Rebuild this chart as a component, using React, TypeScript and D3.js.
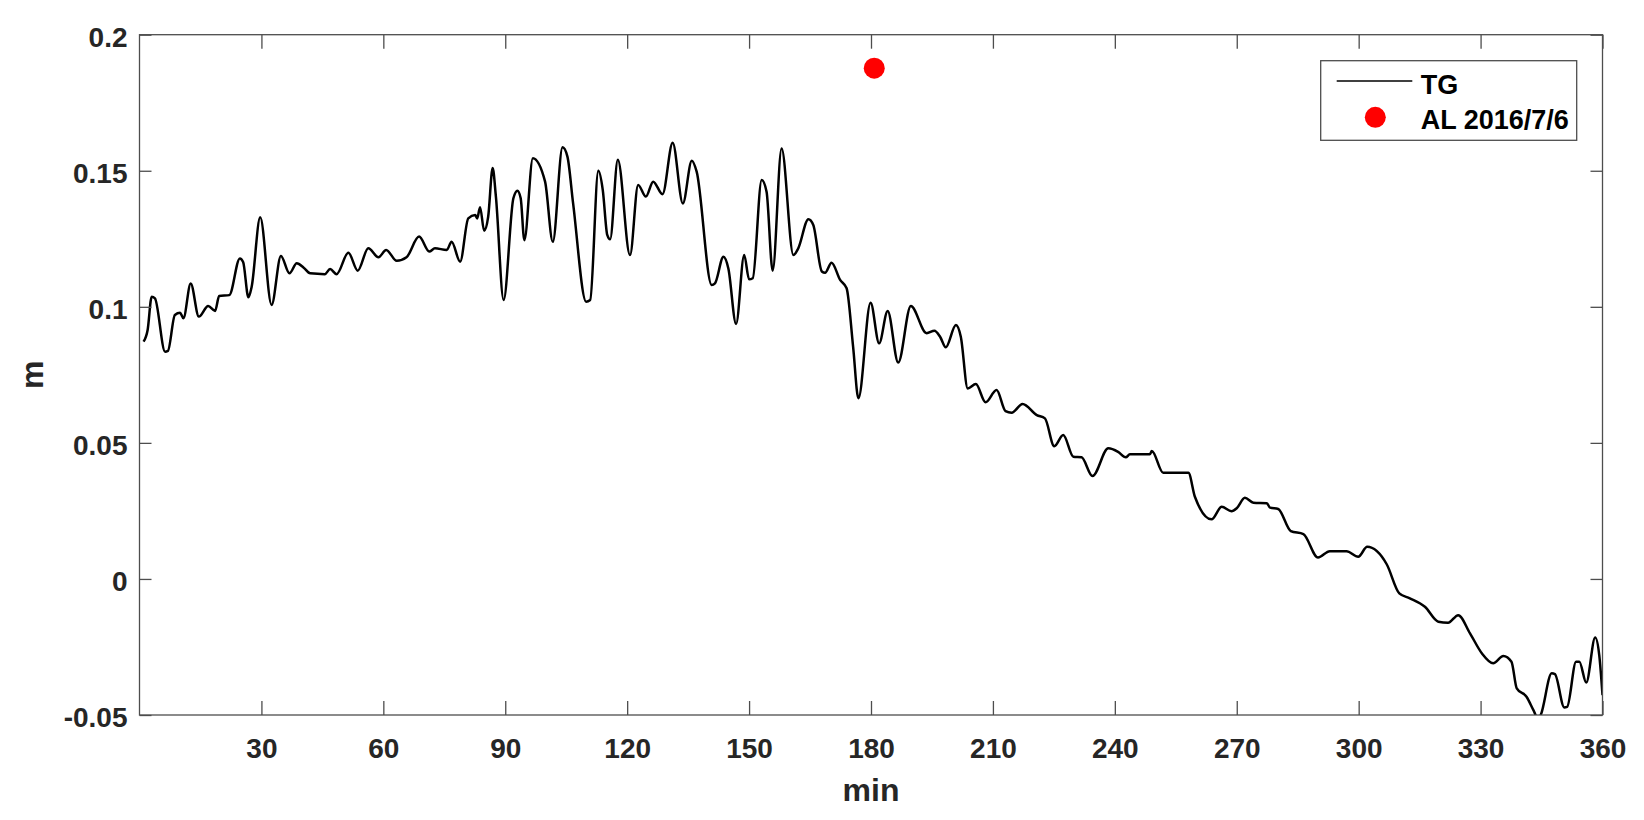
import React, { useRef, useEffect } from 'react';
import * as d3 from 'd3';

// tide gauge record (minutes, metres)
const tgMinutes = [
  1, 2, 3, 3.8, 6.3, 7, 8.7, 10, 10.8, 12.6, 14.6, 16.9, 18.6, 19.6, 22.1, 24.7, 25.5, 26.8, 27.6, 29.7,
  32.5, 34.8, 36.9, 38.7, 40.4, 42, 45.6, 46.9, 48.5, 51.4, 53.7, 56.3, 58.8, 60.7, 63.3, 65.7, 68.8, 71.3,
  72.7, 75.6, 76.8, 78.9, 80.9, 82.6, 83.1, 83.8, 84.8, 85.8, 86.9, 87.7, 89.6, 92, 93, 93.8, 94.7, 96.8,
  99.8, 101.7, 104.1, 105.3, 106.7, 109.9, 110.9, 112.9, 114, 115.1, 115.8, 117.7, 120.7, 122.7, 124.6,
  126.4, 128.7, 131.2, 133.7, 135.9, 137.1, 140.8, 141.6, 143.7, 144.9, 146.8, 148.8, 150, 150.9, 153.1,
  154.3, 155.8, 158, 160.9, 162.1, 164.6, 165.8, 167.9, 168.7, 170.3, 172.4, 174, 175.6, 176.9, 179.9,
  182, 184.1, 186.7, 189.8, 193.7, 195.6, 197, 198.4, 200.9, 202.1, 203.8, 205.8, 208.2, 210.9, 213.1,
  214.6, 217.3, 220.8, 222.8, 225.1, 227.3, 229.8, 231.8, 234.5, 238.4, 240.8, 242.7, 243.7, 248.6, 249.1,
  251.9, 258.1, 259.7, 263.8, 266.3, 268.7, 270, 272, 274.1, 277.4, 278.2, 280.2, 283.3, 286.4, 290,
  292.9, 297, 299.9, 302.1, 306.9, 310, 312.6, 316.3, 319.6, 322, 324.5, 327.4, 330.3, 333.1, 335.6,
  337.6, 338.9, 341.3, 343, 344.2, 344.8, 347.5, 348.3, 350.6, 351.3, 353.5, 354.3, 356, 358.2, 359.2, 360
];
const tgLevel = [
  0.0872, 0.0915, 0.1037, 0.1031, 0.0835, 0.0838, 0.097, 0.0978, 0.0958, 0.1086, 0.0964, 0.1003, 0.0985,
  0.104, 0.1043, 0.1178, 0.1165, 0.1035, 0.1074, 0.1329, 0.1007, 0.1187, 0.1123, 0.116, 0.1144, 0.1123,
  0.112, 0.1139, 0.112, 0.1199, 0.1133, 0.1215, 0.1182, 0.1209, 0.1169, 0.1182, 0.1258, 0.1203, 0.1215,
  0.1209, 0.1239, 0.1166, 0.1325, 0.1337, 0.1325, 0.1366, 0.128, 0.1331, 0.151, 0.1405, 0.1025, 0.1399,
  0.1427, 0.1399, 0.1245, 0.1546, 0.146, 0.1239, 0.1586, 0.1552, 0.138, 0.1019, 0.1025, 0.15, 0.1429,
  0.1264, 0.1248, 0.154, 0.119, 0.1448, 0.1405, 0.146, 0.1414, 0.1603, 0.138, 0.1537, 0.1497, 0.108,
  0.1086, 0.1184, 0.1141, 0.0937, 0.119, 0.1101, 0.1105, 0.1466, 0.1423, 0.1133, 0.1582, 0.119, 0.1215,
  0.1322, 0.1301, 0.113, 0.1125, 0.1162, 0.1099, 0.1068, 0.0853, 0.0664, 0.1015, 0.0866, 0.0985, 0.0795,
  0.1003, 0.0903, 0.0912, 0.089, 0.0851, 0.0933, 0.089, 0.07, 0.0716, 0.0649, 0.0694, 0.0617, 0.0611,
  0.0643, 0.0602, 0.059, 0.0488, 0.0529, 0.0449, 0.0447, 0.0378, 0.048, 0.0467, 0.0447, 0.0458, 0.0458,
  0.047, 0.039, 0.039, 0.0302, 0.0219, 0.0265, 0.0249, 0.026, 0.0298, 0.028, 0.0278, 0.0262, 0.0257,
  0.0176, 0.0165, 0.0079, 0.0102, 0.0102, 0.0082, 0.0118, 0.0054, -0.0053, -0.0071, -0.0102, -0.0157,
  -0.0161, -0.0133, -0.02, -0.0273, -0.031, -0.0283, -0.0304, -0.0402, -0.0433, -0.0482, -0.0515, -0.05,
  -0.0347, -0.035, -0.0472, -0.047, -0.0304, -0.0304, -0.0381, -0.0215, -0.028, -0.0427
];

// altimetry point
const alMinute = [180.8];
const alLevel = [0.1877];

const xTicks = [30, 60, 90, 120, 150, 180, 210, 240, 270, 300, 330, 360];
const yTicks = [-0.05, 0, 0.05, 0.1, 0.15, 0.2];
const yTickLabels = ['-0.05', '0', '0.05', '0.1', '0.15', '0.2'];
const legendLabels = ['TG', 'AL 2016/7/6'];

const FONT = '"Liberation Sans", Arial, Helvetica, sans-serif';
const INK = '#262626';

const App = () => {
  const svgRef = useRef<SVGSVGElement>(null);

  useEffect(() => {
    const svg = d3.select(svgRef.current);
    const width = 1644;
    const height = 820;
    const margin = { top: 34.7, right: 41.5, bottom: 105, left: 139.5 };
    const innerWidth = width - margin.left - margin.right;
    const innerHeight = height - margin.top - margin.bottom;

    svg.selectAll('*').remove();

    const x = d3.scaleLinear().domain([0, 360]).range([0, innerWidth]);
    const y = d3.scaleLinear().domain([-0.05, 0.2]).range([innerHeight, 0]);

    const g = svg.append('g').attr('transform', `translate(${margin.left},${margin.top})`);

    g.append('defs').append('clipPath').attr('id', 'plotclip')
      .append('rect').attr('width', innerWidth).attr('height', innerHeight);

    // tide gauge line
    const points = tgMinutes.map((t, i) => [t, tgLevel[i]] as [number, number]);
    const line = d3.line<[number, number]>()
      .x(d => x(d[0]))
      .y(d => y(d[1]))
      .curve(d3.curveMonotoneX);

    g.append('path')
      .datum(points)
      .attr('clip-path', 'url(#plotclip)')
      .attr('d', line)
      .attr('fill', 'none')
      .attr('stroke', '#000')
      .attr('stroke-width', 2.5)
      .attr('stroke-linejoin', 'round');

    g.selectAll('.al')
      .data(alMinute)
      .enter()
      .append('circle')
      .attr('class', 'al')
      .attr('cx', d => x(d))
      .attr('cy', (d, i) => y(alLevel[i]))
      .attr('r', 10.5)
      .attr('fill', '#ff0000');

    // axes
    const styleAxis = (sel: any) => {
      sel.select('.domain').remove();
      sel.selectAll('line').attr('stroke', '#4d4d4d').attr('stroke-width', 1.3);
      sel.selectAll('text')
        .attr('fill', INK)
        .style('font-family', FONT)
        .style('font-weight', 'bold')
        .style('font-size', '28px');
    };

    g.append('g')
      .attr('transform', `translate(0,${innerHeight})`)
      .call(d3.axisBottom(x).tickValues(xTicks).tickSizeInner(-14).tickSizeOuter(0).tickPadding(23))
      .call(styleAxis);

    g.append('g')
      .call(d3.axisTop(x).tickValues(xTicks).tickSizeInner(-14).tickSizeOuter(0).tickFormat(() => ''))
      .call(styleAxis);

    g.append('g')
      .call(d3.axisLeft(y).tickValues(yTicks).tickSizeInner(-12).tickSizeOuter(0).tickPadding(12)
        .tickFormat((d, i) => yTickLabels[i]))
      .call(styleAxis)
      .selectAll('text').attr('dy', '0.42em');

    g.append('g')
      .attr('transform', `translate(${innerWidth},0)`)
      .call(d3.axisRight(y).tickValues(yTicks).tickSizeInner(-12).tickSizeOuter(0).tickFormat(() => ''))
      .call(styleAxis);

    g.append('rect')
      .attr('width', innerWidth)
      .attr('height', innerHeight)
      .attr('fill', 'none')
      .attr('stroke', '#4d4d4d')
      .attr('stroke-width', 1.3);

    // axis labels
    svg.append('text')
      .attr('x', margin.left + innerWidth / 2)
      .attr('y', 801)
      .attr('text-anchor', 'middle')
      .attr('fill', INK)
      .style('font-family', FONT)
      .style('font-weight', 'bold')
      .style('font-size', '32px')
      .text('min');

    svg.append('text')
      .attr('transform', `translate(43,${margin.top + innerHeight / 2}) rotate(-90)`)
      .attr('text-anchor', 'middle')
      .attr('fill', INK)
      .style('font-family', FONT)
      .style('font-weight', 'bold')
      .style('font-size', '32px')
      .text('m');

    // legend
    const legend = svg.append('g').attr('transform', 'translate(1320.7,60.7)');
    legend.append('rect')
      .attr('width', 256)
      .attr('height', 79.6)
      .attr('fill', '#fff')
      .attr('stroke', '#4d4d4d')
      .attr('stroke-width', 1.3);
    legend.append('line')
      .attr('x1', 16).attr('x2', 91.6)
      .attr('y1', 20.3).attr('y2', 20.3)
      .attr('stroke', '#000')
      .attr('stroke-width', 1.6);
    legend.append('circle')
      .attr('cx', 54.6).attr('cy', 56.6).attr('r', 10.5)
      .attr('fill', '#ff0000');
    legend.selectAll('.lt')
      .data(legendLabels)
      .enter()
      .append('text')
      .attr('class', 'lt')
      .attr('x', 100)
      .attr('y', (d, i) => 33.6 + i * 35)
      .attr('fill', '#000')
      .style('font-family', FONT)
      .style('font-weight', 'bold')
      .style('font-size', '27px')
      .text(d => d);
  }, []);

  return (
    <svg ref={svgRef} width={1644} height={820}
      style={{ position: 'absolute', left: 0, top: 0, background: '#fff' }}></svg>
  );
};

export default App;
